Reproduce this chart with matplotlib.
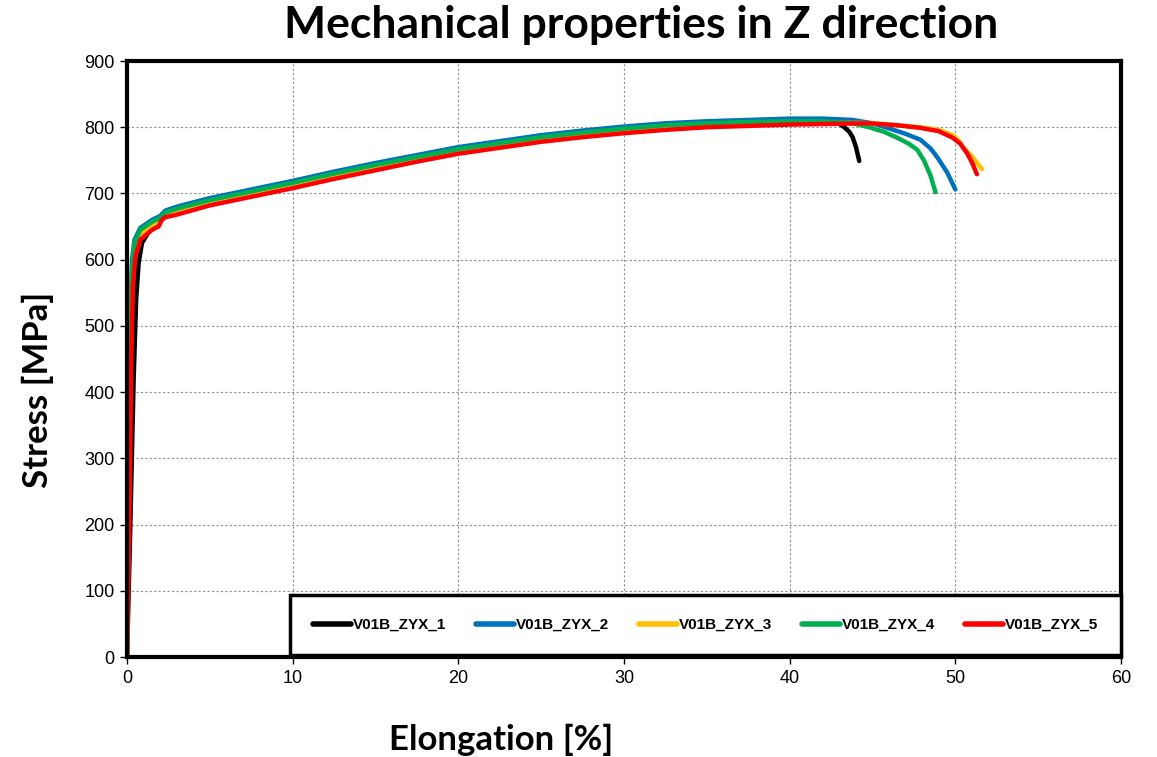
import matplotlib
matplotlib.use('Agg')
import matplotlib.pyplot as plt

# tensile curves: strain [%], stress [MPa]
names = ['V01B_ZYX_1', 'V01B_ZYX_2', 'V01B_ZYX_3', 'V01B_ZYX_4', 'V01B_ZYX_5']
colors = ['#000000', '#0070C0', '#FFC000', '#00B050', '#FF0000']

strain_1 = [0, 0.2, 0.4, 0.55, 0.7, 0.9, 1.5, 2.0, 2.3, 3, 5, 7.5, 10, 12.5, 15, 17.5, 20,
            22.5, 25, 27.5, 30, 32.5, 35, 37.5, 40, 42.5, 43.0, 43.3, 43.6, 43.8, 44.0, 44.2]
stress_1 = [0, 200, 420, 540, 595, 625, 650, 660, 669, 675, 689, 702, 715, 729, 742, 754, 766,
            775, 784, 791, 797, 801, 805, 807, 808, 807, 805, 800, 793, 785, 770, 749]

strain_2 = [0, 0.1, 0.2, 0.3, 0.45, 0.8, 1.5, 2.0, 2.3, 3, 5, 7.5, 10, 12.5, 15, 17.5, 20,
            22.5, 25, 27.5, 30, 32.5, 35, 37.5, 40, 42, 43.8, 45.0, 45.9, 47.0, 47.9, 48.5,
            48.9, 49.5, 50.0]
stress_2 = [0, 280, 520, 600, 630, 648, 660, 666, 674, 680, 693, 706, 719, 733, 746, 758, 770,
            779, 788, 795, 801, 806, 809, 811, 813, 813, 811, 806, 799, 790, 781, 768,
            755, 732, 706]

strain_3 = [0, 0.1, 0.2, 0.3, 0.5, 0.8, 1.5, 2.0, 2.3, 3, 5, 7.5, 10, 12.5, 15, 17.5, 20,
            22.5, 25, 27.5, 30, 32.5, 35, 37.5, 40, 42.5, 45, 47.9, 49.0, 49.85, 50.2, 50.45,
            51.0, 51.6]
stress_3 = [0, 240, 460, 570, 615, 638, 652, 659, 667, 673, 687, 700, 713, 727, 740, 752, 764,
            773, 782, 789, 795, 800, 803, 806, 807, 807, 806, 800, 796, 788, 780, 770,
            756, 737]

strain_4 = [0, 0.1, 0.2, 0.3, 0.45, 0.8, 1.5, 2.0, 2.3, 3, 5, 7.5, 10, 12.5, 15, 17.5, 20,
            22.5, 25, 27.5, 30, 32.5, 35, 37.5, 40, 42, 43.6, 44.8, 45.7, 46.5, 47.2, 47.7,
            48.1, 48.5, 48.8]
stress_4 = [0, 270, 500, 590, 625, 645, 657, 663, 671, 677, 690, 703, 716, 730, 743, 755, 767,
            776, 785, 792, 798, 803, 806, 808, 809, 809, 807, 800, 793, 784, 775, 766,
            750, 727, 702]

strain_5 = [0, 0.15, 0.25, 0.35, 0.5, 0.8, 1.5, 1.9, 2.1, 2.3, 3, 5, 7.5, 10, 12.5, 15, 17.5, 20,
            22.5, 25, 27.5, 30, 32.5, 35, 37.5, 40, 42.5, 44.8, 46.5, 47.9, 49.0, 49.85, 50.3,
            50.7, 51.0, 51.3]
stress_5 = [0, 220, 440, 560, 605, 630, 645, 650, 660, 664, 668, 682, 695, 708, 722, 735, 748, 760,
            769, 778, 785, 791, 796, 800, 802, 804, 805, 806, 803, 799, 794, 784, 775,
            761, 747, 729]

strains = [strain_1, strain_2, strain_3, strain_4, strain_5]
stresses = [stress_1, stress_2, stress_3, stress_4, stress_5]

x_ticks = [0, 10, 20, 30, 40, 50, 60]
y_ticks = [0, 100, 200, 300, 400, 500, 600, 700, 800, 900]

plt.rcParams['font.family'] = ['Liberation Sans', 'DejaVu Sans']

fig = plt.figure(figsize=(11.57, 7.57), dpi=100)
ax = fig.add_axes([0.1098, 0.1321, 0.8591, 0.7873])

for i in range(len(names)):
    ax.plot(strains[i], stresses[i], color=colors[i], linewidth=3.2, label=names[i],
            solid_capstyle='round', solid_joinstyle='round')

ax.set_xlim(0, 60)
ax.set_ylim(0, 900)
ax.set_xticks(x_ticks)
ax.set_yticks(y_ticks)
ax.tick_params(direction='out', length=5, width=1, labelsize=13, pad=4)
ax.grid(True, color='#909090', linestyle=(0, (2, 2)), linewidth=0.8)
ax.set_axisbelow(True)
for s in ax.spines.values():
    s.set_linewidth(3)

leg = ax.legend(loc='center', bbox_to_anchor=(0.164, 0.0, 0.836, 0.107), mode='expand',
                ncol=5, frameon=True, fancybox=False, borderpad=1.5, borderaxespad=0,
                handlelength=2.5, handletextpad=0.1, columnspacing=1.0,
                prop={'family': 'Liberation Sans', 'weight': 'bold', 'size': 11})
leg.get_frame().set_edgecolor('black')
leg.get_frame().set_linewidth(2.5)
leg.get_frame().set_alpha(1)
for line in leg.get_lines():
    line.set_linewidth(4)

fig.text(0.554, 0.967, 'Mechanical properties in Z direction', ha='center', va='center',
         fontsize=32, fontweight='bold', family='Lato')
fig.text(0.033, 0.485, 'Stress [MPa]', ha='center', va='center', rotation=90,
         fontsize=25, fontweight='bold', family='Lato')
fig.text(0.433, 0.022, 'Elongation [%]', ha='center', va='center',
         fontsize=25, fontweight='bold', family='Lato')

fig.savefig('out.png', dpi=100)
